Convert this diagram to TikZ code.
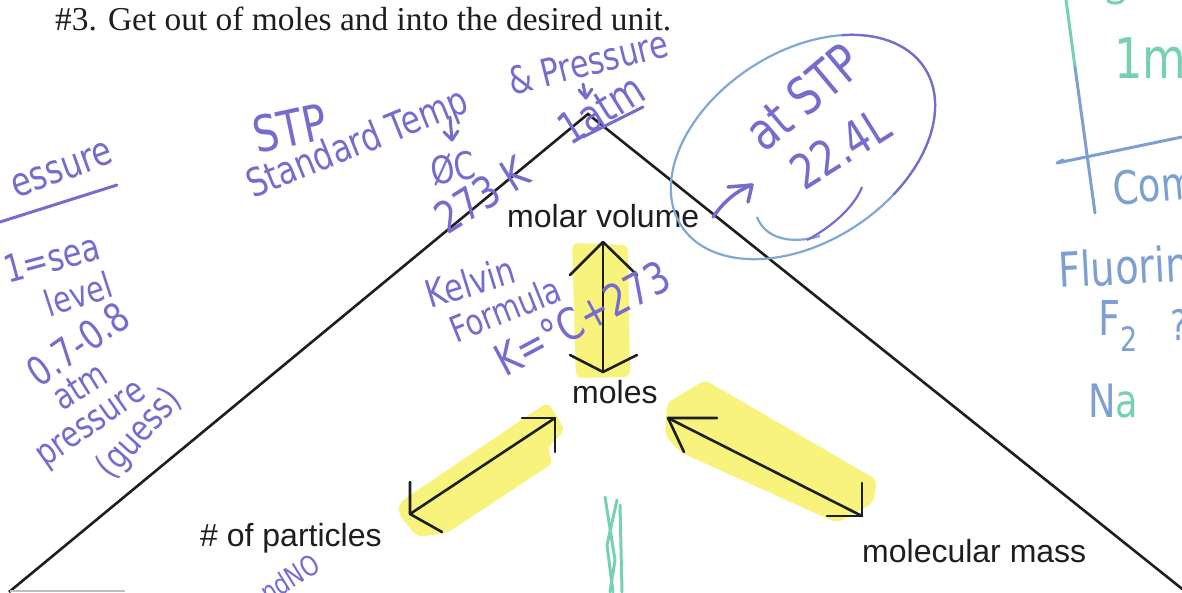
\documentclass[tikz,border=0pt]{standalone}
\usepackage{fontspec}
\setmainfont{Liberation Sans}
\newfontfamily\titlefont{Liberation Serif}
\newfontfamily\hand{DejaVu Sans}[FakeStretch=0.8]
\usetikzlibrary{arrows.meta}
\definecolor{ink}{RGB}{30,30,30}
\definecolor{pur}{RGB}{118,108,206}
\definecolor{blu}{RGB}{125,160,210}
\definecolor{eblu}{RGB}{128,168,212}
\definecolor{tealink}{RGB}{118,209,180}
\definecolor{hl}{RGB}{247,243,125}
\newcommand\hwsize[1]{\fontsize{#1}{#1}\selectfont}
\begin{document}
\begin{tikzpicture}[x=1pt,y=-1pt,
  lab/.style={font=\fontsize{32}{36}\selectfont, text=ink, inner sep=0pt, anchor=base west},
  hw/.style={text=pur, inner sep=0pt},
  arr/.style={draw=ink, line width=2.6pt, line cap=round, line join=round},
  pen/.style={draw=pur, line width=3pt, line cap=round, line join=round},
  bpen/.style={draw=blu, line width=3pt, line cap=round, line join=round},
  tpen/.style={draw=tealink, line width=3pt, line cap=round, line join=round},
  hilite/.style={fill=hl, draw=none, rounded corners=6pt}]
\useasboundingbox (0,0) rectangle (1182,592);
\fill[white] (0,0) rectangle (1182,592);

% highlights
\fill[hilite] (572,243) -- (628,245) -- (630,377) -- (576,378) -- cycle;
\fill[hilite] (400,502) -- (548,402) -- (565,430) -- (547,448) -- (553,463) -- (447,533) -- (417,537) -- (398,513) -- cycle;
\fill[hilite] (667,403) -- (705,380) -- (877,480) -- (873,503) -- (837,523) -- (680,452) -- (665,435) -- cycle;

% triangle
\draw[ink, line width=2.6pt, line join=miter] (9,592) -- (588,114) -- (1186,592);
\draw[gray!50, line width=1.5pt] (10,591) -- (125,591);

% title and labels
\node[anchor=base west, inner sep=0pt, text=ink, font=\titlefont\fontsize{33.4}{36}\selectfont] (title) at (55,30) {\#3. Get out of moles and into the desired unit.};
\node[lab] (mv) at (507,227) {molar volume};
\node[lab] (mo) at (572,403) {moles};
\node[lab] (pa) at (200,546) {\# of particles};
\node[lab] (mm) at (862,562) {molecular mass};

% arrows
\coordinate (vt) at (603,242); \coordinate (vb) at (603,372);
\draw[arr] (vb) -- (vt);
\draw[arr] (vt) ++(-33,33) -- (vt) -- ++(34,33);
\draw[arr] (vb) ++(-33,-17) -- (vb) -- ++(34,-17);
\coordinate (lu) at (555,418); \coordinate (ll) at (410,514);
\draw[arr] (ll) -- (lu);
\draw[arr] (lu) ++(-33,0) -- (lu) -- ++(0,34);
\draw[arr] (ll) ++(0,-32) -- (ll) -- ++(32,18);
\coordinate (ru) at (668,418); \coordinate (rl) at (862,516);
\draw[arr] (ru) -- (rl);
\draw[arr] (ru) ++(49,0) -- (ru) -- ++(16,34);
\draw[arr] (rl) ++(0,-33) -- (rl) -- ++(-35,0);

% handwriting: STP notes
\node[hw, rotate=12, font=\hand\hwsize{50}] (stp) at (290,128) {STP};
\node[hw, rotate=22, font=\hand\hwsize{39}] (std) at (358,145) {Standard Temp};
\node[hw, rotate=14, font=\hand\hwsize{38}] (prs) at (588,62) {\& Pressure};
\draw[pen] (450,117) -- (452,140); \draw[pen] (444,132) -- (452,140) -- (458,131);
\draw[pen] (583,84) -- (586,98); \draw[pen] (579,90) -- (586,98) -- (592,89);
\node[hw, rotate=10, font=\hand\hwsize{38}] (zc) at (453,168) {ØC};
\node[hw, rotate=32, font=\hand\hwsize{44}] (tk) at (482,195) {273 K};
\node[hw, rotate=32, font=\hand\hwsize{44}] (atm1) at (601,109) {1atm};
\draw[pen] (583,137) -- (643,107);

% ellipse note
\begin{scope}[shift={(803,147)}, rotate=33]
  \draw[draw=eblu, line width=2.2pt] (0,0) ellipse [x radius=145, y radius=95];
  \draw[draw=pur, line width=2.2pt] (70:145 and 95) arc[start angle=70, end angle=-50, x radius=145, y radius=95];
\end{scope}
\draw[draw=eblu, line width=2.2pt] (757,217) .. controls (765,238) and (790,245) .. (820,236);
\draw[draw=pur, line width=2.2pt] (807,240) .. controls (835,225) and (855,205) .. (862,187);
\node[hw, rotate=40, font=\hand\hwsize{52}] (atstp) at (803,97) {at STP};
\node[hw, rotate=32, font=\hand\hwsize{48}] (vol) at (840,148) {22.4L};
\coordinate (ea) at (713,217); \coordinate (eb) at (752,185);
\draw[pen, line width=3.5pt] (ea) .. controls (725,200) and (738,190) .. (eb);
\draw[pen, line width=3.5pt] (eb) ++(-24,2) -- (eb) -- ++(-4,17);

% left notes
\node[hw, rotate=20, font=\hand\hwsize{40}] (ess) at (62,170) {essure};
\draw[pen] (0,222) -- (117,185);
\node[hw, rotate=15, font=\hand\hwsize{38}] (sea) at (52,258) {1=sea};
\node[hw, rotate=18, font=\hand\hwsize{36}] (lvl) at (78,294) {level};
\node[hw, rotate=35, font=\hand\hwsize{40}] (rng) at (78,344) {0.7-0.8};
\node[hw, rotate=32, font=\hand\hwsize{36}] (atm2) at (80,386) {atm};
\node[hw, rotate=35, font=\hand\hwsize{36}] (prs2) at (93,427) {pressure};
\node[hw, rotate=48, font=\hand\hwsize{36}] (gs) at (140,434) {(guess)};

% Kelvin notes
\node[hw, rotate=17, font=\hand\hwsize{38}] (kel) at (470,282) {Kelvin};
\node[hw, rotate=22, font=\hand\hwsize{36}] (form) at (505,309) {Formula};
\node[hw, rotate=28, font=\hand\hwsize{44}] (keq) at (582,318) {K=°C+273};

% bottom scribbles
\node[hw, rotate=32, font=\hand\hwsize{28}] (andno) at (284,582) {andNO};
\draw[tpen] (605,497) -- (615,560) -- (610,592);
\draw[tpen] (617,500) -- (607,545) -- (613,592);
\draw[tpen] (620,505) -- (622,592);

% right edge notes
\draw[tpen] (1066,0) -- (1075,67);
\draw[bpen] (1075,67) -- (1095,213);
\draw[bpen] (1063,160) -- (1057,163) -- (1182,137);
\draw[tpen] (1108,1) .. controls (1112,4) and (1120,4) .. (1123,0);
\node[anchor=west, inner sep=0pt, text=tealink, font=\hand\hwsize{56}] (mi) at (1114,57) {1mi};
\node[anchor=west, inner sep=0pt, text=blu, rotate=5, font=\hand\hwsize{46}] (comp) at (1113,193) {Comp};
\node[anchor=west, inner sep=0pt, text=blu, rotate=3, font=\hand\hwsize{48}] (fl) at (1058,270) {Fluorin};
\node[anchor=west, inner sep=0pt, text=blu, font=\hand\hwsize{48}] (f2) at (1098,326) {F\textsubscript{2}};
\node[anchor=west, inner sep=0pt, text=blu, font=\hand\hwsize{42}] (q) at (1170,325) {?};
\node[anchor=west, inner sep=0pt, font=\hand\hwsize{46}] (na) at (1088,401) {\textcolor{blu}{N}\textcolor{tealink}{a}};
\end{tikzpicture}
\end{document}
